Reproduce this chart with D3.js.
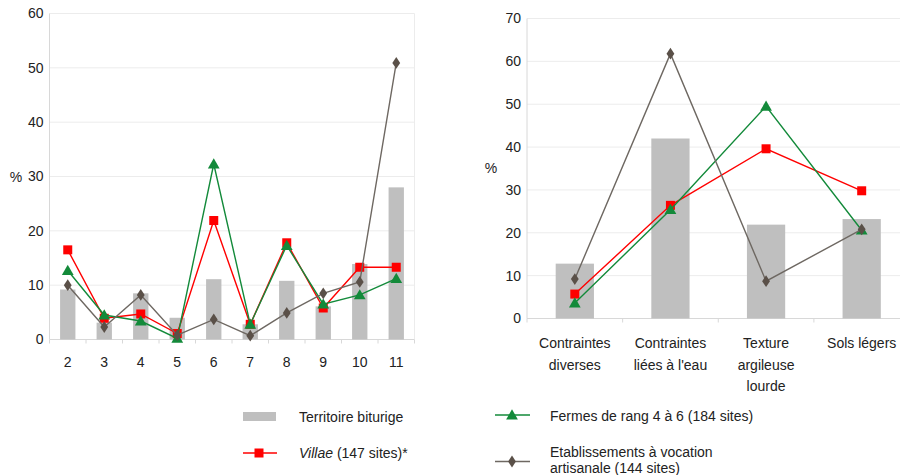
<!DOCTYPE html>
<html><head><meta charset="utf-8">
<script src="https://cdn.jsdelivr.net/npm/d3@7"></script>
<style>
body{margin:0;background:#fff;}
svg text{font-family:"Liberation Sans",Arial,sans-serif;fill:#222;}
</style></head><body>
<svg id="c" width="900" height="475"></svg>
<script>
// Left chart data
const leftCats = ["2","3","4","5","6","7","8","9","10","11"];
const leftTerritoire = [9.2,3.1,8.5,4.0,11.1,2.8,10.8,6.1,13.9,28.0];
const leftVillae = [16.5,3.9,4.7,1.1,21.9,2.8,17.8,5.8,13.3,13.3];
const leftFermes = [12.7,4.5,3.4,0.2,32.3,2.8,17.3,6.5,8.2,11.2];
const leftEtab = [10.0,2.3,8.2,0.8,3.7,0.7,4.9,8.5,10.6,50.9];
const leftTicks = [0,10,20,30,40,50,60];

// Right chart data
const rightCats = [["Contraintes","diverses"],["Contraintes","liées à l'eau"],["Texture","argileuse","lourde"],["Sols légers"]];
const rightTerritoire = [12.8,42.0,21.9,23.2];
const rightVillae = [5.7,26.4,39.6,29.8];
const rightFermes = [3.6,25.4,49.5,20.6];
const rightEtab = [9.2,61.8,8.7,20.8];
const rightTicks = [0,10,20,30,40,50,60,70];

const legendLabels = ["Territoire biturige","Villae","(147 sites)*","Fermes de rang 4 à 6 (184 sites)","Etablissements à vocation","artisanale (144 sites)"];

const C = {bar:"#bfbfbf", red:"#ff0000", green:"#138a3a", grey:"#6e6862", greyM:"#5a5048", grid:"#ececec", axis:"#d8d8d8"};
const svg = d3.select("#c");

function marker(g, type, x, y, color){
  if(type==="square") g.append("rect").attr("x",x-4.5).attr("y",y-4.5).attr("width",9).attr("height",9).attr("fill",color);
  else if(type==="triangle") g.append("path").attr("d",d3.symbol(d3.symbolTriangle,60)()).attr("transform",`translate(${x},${y+1})`).attr("fill",color);
  else g.append("path").attr("d",d3.symbol(d3.symbolDiamond,40)()).attr("transform",`translate(${x},${y}) scale(1.15,1)`).attr("fill",color);
}

function chart(o){
  const g = svg.append("g");
  const x = d3.scaleBand().domain(o.cats.map((d,i)=>i)).range([o.x0,o.x1]).paddingInner(0).paddingOuter(0);
  const y = d3.scaleLinear().domain([0,o.ymax]).range([o.y0,o.y1]);
  g.selectAll(".gl").data(o.ticks).join("line")
    .attr("x1",o.x0).attr("x2",o.gx1).attr("y1",d=>y(d)).attr("y2",d=>y(d))
    .attr("stroke",d=>d===0?C.axis:C.grid).attr("stroke-width",1);
  if(o.frame){
    g.append("line").attr("x1",o.x1).attr("x2",o.x1).attr("y1",y(o.ymax)).attr("y2",y(0)).attr("stroke",C.grid);
  }
  g.append("line").attr("x1",o.x0).attr("x2",o.x0).attr("y1",y(o.ymax)).attr("y2",y(0)).attr("stroke",C.axis);
  const bounds = d3.range(o.cats.length+1).map(i=>o.x0+i*x.step());
  g.selectAll(".xt").data(bounds).join("line")
    .attr("x1",d=>d).attr("x2",d=>d).attr("y1",y(0)).attr("y2",y(0)+4).attr("stroke",C.axis);
  const ya = d3.axisLeft(y).tickValues(o.ticks).tickSize(0).tickPadding(6);
  const yg = g.append("g").attr("transform",`translate(${o.x0},0)`).call(ya);
  yg.select(".domain").remove();
  yg.selectAll("text").style("font-size","14px").attr("fill","#222");
  g.append("text").attr("x",o.pctX).attr("y",o.pctY).attr("text-anchor","middle").attr("dominant-baseline","central").style("font-size","14px").text("%");
  o.cats.forEach((c,i)=>{
    const lines = Array.isArray(c)?c:[c];
    lines.forEach((l,j)=>{
      g.append("text").attr("x",x(i)+x.bandwidth()/2).attr("y",o.labY+j*21.5)
        .attr("text-anchor","middle").attr("dominant-baseline","central").style("font-size","14px").text(l);
    });
  });
  const bw = x.bandwidth()*o.barFrac;
  g.selectAll(".bar").data(o.terr).join("rect")
    .attr("x",(d,i)=>x(i)+x.bandwidth()/2-bw/2).attr("width",bw)
    .attr("y",d=>y(d)).attr("height",d=>y(0)-y(d)).attr("fill",C.bar);
  const cx = i=>x(i)+x.bandwidth()/2;
  const series = [[o.villae,C.red,C.red,"square"],[o.fermes,C.green,C.green,"triangle"],[o.etab,C.grey,C.greyM,"diamond"]];
  series.forEach(([vals,lc,mc,type])=>{
    const line = d3.line().x((d,i)=>cx(i)).y(d=>y(d));
    g.append("path").attr("d",line(vals)).attr("fill","none").attr("stroke",lc).attr("stroke-width",1.4);
    vals.forEach((v,i)=>marker(g,type,cx(i),y(v),mc));
  });
}

chart({cats:leftCats,terr:leftTerritoire,villae:leftVillae,fermes:leftFermes,etab:leftEtab,ticks:leftTicks,ymax:60,
  x0:49.5,x1:414.5,gx1:414.5,y0:339.5,y1:13.5,frame:true,barFrac:0.42,pctX:16,pctY:177,labY:362});
chart({cats:rightCats,terr:rightTerritoire,villae:rightVillae,fermes:rightFermes,etab:rightEtab,ticks:rightTicks,ymax:70,
  x0:527,x1:909.5,gx1:900,y0:318.5,y1:18.5,frame:false,barFrac:0.40,pctX:491,pctY:168,labY:343});

// legend
const lg = svg.append("g").style("font-size","14px");
lg.append("rect").attr("x",243).attr("y",412).attr("width",33).attr("height",9).attr("fill",C.bar);
lg.append("text").attr("x",299).attr("y",416.5).attr("dominant-baseline","central").text(legendLabels[0]);
lg.append("line").attr("x1",243).attr("x2",277).attr("y1",453).attr("y2",453).attr("stroke",C.red).attr("stroke-width",1.4);
marker(lg,"square",259,453,C.red);
const vt = lg.append("text").attr("x",299).attr("y",452.5).attr("dominant-baseline","central");
vt.append("tspan").style("font-style","italic").text(legendLabels[1]);
vt.append("tspan").text(" "+legendLabels[2]);
lg.append("line").attr("x1",495).attr("x2",530).attr("y1",415).attr("y2",415).attr("stroke",C.green).attr("stroke-width",1.4);
marker(lg,"triangle",512,415,C.green);
lg.append("text").attr("x",550).attr("y",415.5).attr("dominant-baseline","central").text(legendLabels[3]);
lg.append("line").attr("x1",495).attr("x2",530).attr("y1",461.5).attr("y2",461.5).attr("stroke",C.grey).attr("stroke-width",1.4);
marker(lg,"diamond",512,461.5,C.greyM);
lg.append("text").attr("x",550).attr("y",451.5).attr("dominant-baseline","central").text(legendLabels[4]);
lg.append("text").attr("x",550).attr("y",468).attr("dominant-baseline","central").text(legendLabels[5]);
</script></body></html>
